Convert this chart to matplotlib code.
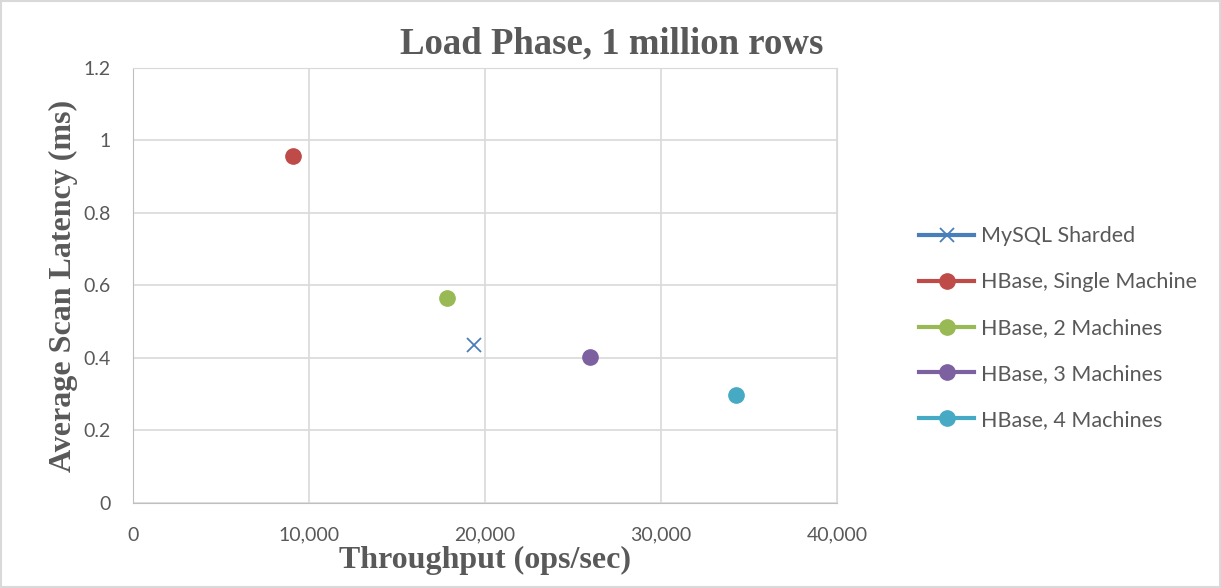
import matplotlib
matplotlib.use("Agg")
import matplotlib.pyplot as plt
from matplotlib.ticker import FuncFormatter

# data
series = ["MySQL Sharded", "HBase, Single Machine", "HBase, 2 Machines",
          "HBase, 3 Machines", "HBase, 4 Machines"]
throughput = [19400, 9100, 17850, 25950, 34250]
latency = [0.435, 0.957, 0.566, 0.402, 0.298]
colors = ["#4A7EBB", "#BE4B48", "#98B954", "#7D60A0", "#46AAC5"]
markers = ["x", "o", "o", "o", "o"]

xticks = [0, 10000, 20000, 30000, 40000]
yticks = [0, 0.2, 0.4, 0.6, 0.8, 1, 1.2]

gray = "#595959"
serif = "Liberation Serif"
sans = "Lato"

fig = plt.figure(figsize=(12.21, 5.88), dpi=100)
ax = fig.add_axes([0.1089, 0.1446, 0.5766, 0.7398])

for name, x, y, c, m in zip(series, throughput, latency, colors, markers):
    if m == "x":
        ax.plot([x], [y], linestyle="-", color=c, marker=m, markersize=10,
                markeredgewidth=1.3, linewidth=3, label=name)
    else:
        ax.plot([x], [y], linestyle="-", color=c, marker=m, markersize=11,
                linewidth=3, label=name)

ax.set_xlim(0, 40000)
ax.set_ylim(0, 1.2)
ax.set_xticks(xticks)
ax.set_yticks(yticks)
ax.xaxis.set_major_formatter(FuncFormatter(lambda v, p: f"{int(v):,}"))
ax.yaxis.set_major_formatter(FuncFormatter(lambda v, p: f"{v:g}"))
ax.grid(True, color="#D9D9D9", linewidth=1.2)
ax.set_axisbelow(True)
for s in ax.spines.values():
    s.set_color("#D9D9D9")
ax.spines["left"].set_color("#BFBFBF")
ax.spines["bottom"].set_color("#BFBFBF")
ax.tick_params(length=0, labelsize=14, labelcolor=gray)
ax.tick_params(axis="x", pad=17)
ax.tick_params(axis="y", pad=16)
for lab in ax.get_xticklabels() + ax.get_yticklabels():
    lab.set_fontfamily(sans)

ax.set_xlabel("Throughput (ops/sec)", fontsize=23, fontweight="bold",
              family=serif, color=gray, labelpad=2)
ax.set_ylabel("Average Scan Latency (ms)", fontsize=23, fontweight="bold",
              family=serif, color=gray, labelpad=4)
fig.text(0.501, 0.925, "Load Phase, 1 million rows", fontsize=26.5,
         fontweight="bold", family=serif, color=gray, ha="center", va="center")

leg = fig.legend(loc="center left", bbox_to_anchor=(0.737, 0.442), frameon=False,
                 prop={"family": sans, "size": 15.5}, handlelength=2.55,
                 handletextpad=0.3, labelspacing=1.2, numpoints=1)
for t in leg.get_texts():
    t.set_color(gray)

fig.patches.append(plt.Rectangle((0.001, 0.001), 0.998, 0.997, transform=fig.transFigure,
                                 fill=False, edgecolor="#D9D9D9", linewidth=1.5))

fig.savefig("out.png", dpi=100)
